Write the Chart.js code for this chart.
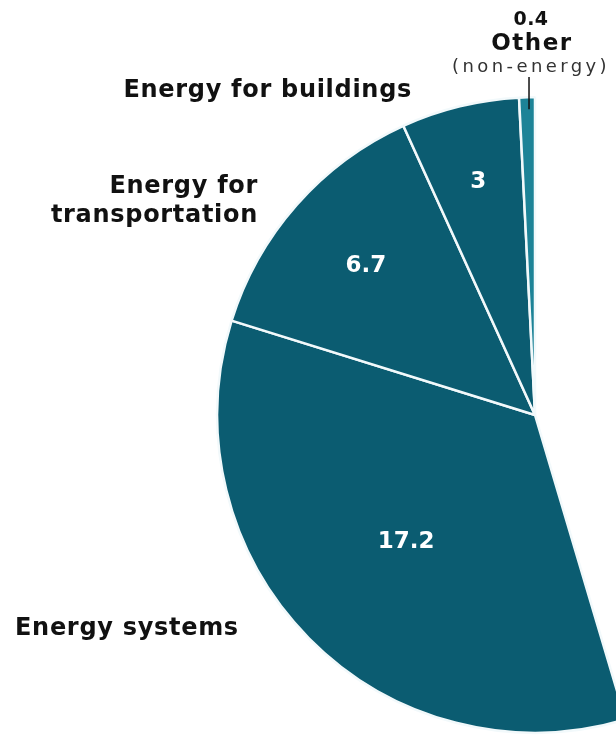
<!DOCTYPE html>
<html>
<head>
<meta charset="utf-8">
<title>Emissions by sector</title>
<script src="https://cdn.jsdelivr.net/npm/chart.js@4.4.1/dist/chart.umd.min.js"></script>
<style>
  html, body { margin: 0; padding: 0; background: #fff; overflow: hidden; }
  #wrap { width: 1070px; height: 741px; }
</style>
</head>
<body>
<div id="wrap"><canvas id="sectorPie" width="1070" height="741"></canvas></div>
<script>
// slices run clockwise from 12 o'clock; the first one is the blank remainder
const sectors = ["Remaining sectors", "Energy systems", "Energy for transportation", "Energy for buildings", "Other (non-energy)"];
const emissions = [22.7, 17.2, 6.7, 3, 0.4];
const sliceColors = ["#ffffff", "#0b5c71", "#0b5c71", "#0b5c71", "#1d8397"];

const SLICE_BORDER = "#f2f9fb";
const LABEL_FONT = '"DejaVu Sans", sans-serif';

// where the value sits inside each slice, as a share of the radius
const valueRadius = { 1: 0.57, 2: 0.71, 3: 0.755 };

const sectorLabels = {
    id: "sectorLabels",
    afterDraw(chart) {
        const ctx = chart.ctx;
        const meta = chart.getDatasetMeta(0);
        ctx.save();

        // values inside the slices
        ctx.fillStyle = "#ffffff";
        ctx.font = "bold 23px " + LABEL_FONT;
        ctx.textAlign = "center";
        ctx.textBaseline = "middle";
        Object.keys(valueRadius).forEach((k) => {
            const i = +k;
            const arc = meta.data[i];
            const mid = (arc.startAngle + arc.endAngle) / 2;
            const r = arc.outerRadius * valueRadius[k];
            ctx.fillText(String(emissions[i]), arc.x + Math.cos(mid) * r, arc.y + Math.sin(mid) * r);
        });

        // outside titles
        ctx.fillStyle = "#111111";
        ctx.textBaseline = "alphabetic";
        ctx.font = "bold 24px " + LABEL_FONT;
        ctx.letterSpacing = "0.7px";
        ctx.textAlign = "right";
        ctx.fillText("Energy for buildings", 412, 97);
        ctx.fillText("Energy for", 258, 193);
        ctx.fillText("transportation", 258, 222);
        ctx.textAlign = "left";
        ctx.fillText("Energy systems", 15, 635);

        // "Other" callout at the top with a short leader into its sliver
        const other = meta.data[4];
        const oMid = (other.startAngle + other.endAngle) / 2;
        const lx = other.x + Math.cos(oMid) * other.outerRadius + 2;
        ctx.textAlign = "center";
        ctx.letterSpacing = "0.5px";
        ctx.font = "bold 19px " + LABEL_FONT;
        ctx.fillText(String(emissions[4]), 531, 25);
        ctx.font = "bold 23px " + LABEL_FONT;
        ctx.letterSpacing = "1.5px";
        ctx.fillText("Other", 532, 50);
        ctx.font = "18px " + LABEL_FONT;
        ctx.letterSpacing = "3.4px";
        ctx.fillStyle = "#333333";
        ctx.fillText("(non-energy)", 531, 72);

        ctx.strokeStyle = "#111111";
        ctx.lineWidth = 1.5;
        ctx.beginPath();
        ctx.moveTo(lx, 77);
        ctx.lineTo(lx, other.y + Math.sin(oMid) * (other.outerRadius - 12));
        ctx.stroke();
        ctx.restore();
    }
};

new Chart(document.getElementById("sectorPie"), {
    type: "pie",
    data: {
        labels: sectors,
        datasets: [
            {
                data: emissions,
                backgroundColor: sliceColors,
                borderColor: ["#ffffff", SLICE_BORDER, SLICE_BORDER, SLICE_BORDER, SLICE_BORDER],
                borderWidth: 2.5,
                hoverOffset: 0,
            },
        ],
    },
    options: {
        responsive: false,
        animation: false,
        layout: { padding: { top: 96, bottom: 7, left: 0, right: 0 } },
        plugins: {
            legend: { display: false },
            tooltip: { enabled: false },
        },
    },
    plugins: [sectorLabels],
});
</script>
</body>
</html>
